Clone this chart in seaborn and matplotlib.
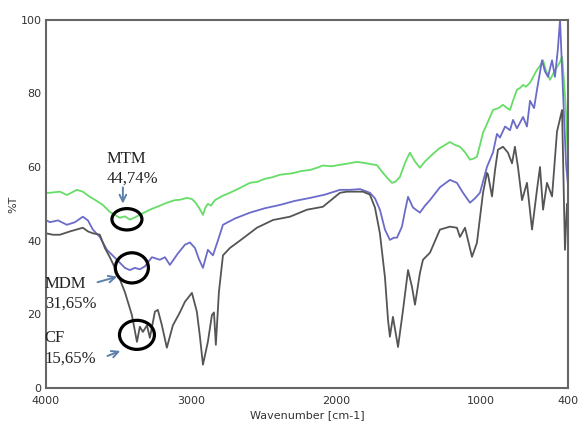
import numpy as np
import pandas as pd
import matplotlib
matplotlib.use("Agg")
import matplotlib.pyplot as plt
from matplotlib.patches import Ellipse
from matplotlib.ticker import MultipleLocator
import seaborn as sns

# ---- data ----
mtm_wn = [4000, 3972, 3903, 3855, 3786, 3745, 3697, 3662, 3607, 3559, 3490, 3455, 3421, 3386,
          3352, 3283, 3214, 3166, 3110, 3076, 3028, 2993, 2972, 2945, 2917, 2900, 2883, 2862,
          2834, 2780, 2731, 2662, 2593, 2540, 2490, 2440, 2386, 2300, 2240, 2179, 2130, 2090,
          2030, 1972, 1910, 1855, 1790, 1717, 1676, 1645, 1614, 1590, 1559, 1520, 1490, 1455,
          1421, 1386, 1352, 1290, 1214, 1180, 1145, 1110, 1076, 1050, 1028, 1007, 986, 950,
          917, 880, 848, 820, 800, 775, 752, 730, 710, 690, 662, 640, 614, 593, 572, 550,
          524, 500, 476, 455, 441, 425, 414, 400]
mtm_t = [53.0, 53.0, 53.3, 52.4, 53.8, 53.3, 51.9, 51.1, 49.7, 47.8, 46.2, 46.6, 45.7, 46.3,
         47.0, 48.4, 49.5, 50.3, 51.0, 51.1, 51.6, 51.3, 50.5, 49.0, 47.0, 49.0, 50.0, 49.5,
         51.0, 52.2, 53.0, 54.3, 55.7, 56.0, 56.8, 57.2, 57.9, 58.3, 58.9, 59.2, 59.8, 60.4,
         60.2, 60.6, 61.0, 61.4, 61.0, 60.5, 58.4, 57.0, 55.7, 56.0, 57.3, 61.5, 63.9, 61.5,
         59.8, 61.5, 62.8, 65.0, 66.8, 66.0, 65.5, 64.0, 62.0, 62.3, 62.8, 66.0, 69.3, 72.5,
         75.5, 76.0, 76.9, 76.0, 75.5, 78.5, 81.0, 81.5, 82.3, 81.8, 82.9, 84.5, 86.4, 87.5,
         89.0, 86.0, 83.7, 85.5, 87.2, 88.5, 90.0, 82.0, 75.0, 61.0]

mdm_wn = [4000, 3972, 3917, 3855, 3800, 3745, 3710, 3676, 3628, 3579, 3510, 3455, 3421, 3386,
          3352, 3317, 3269, 3214, 3179, 3145, 3090, 3041, 3007, 2972, 2945, 2917, 2883, 2848,
          2814, 2779, 2697, 2593, 2490, 2386, 2283, 2179, 2076, 1972, 1903, 1834, 1766, 1731,
          1697, 1662, 1628, 1600, 1579, 1545, 1524, 1503, 1469, 1421, 1386, 1352, 1283, 1214,
          1166, 1124, 1076, 1041, 1007, 959, 917, 890, 869, 834, 800, 779, 752, 710, 683, 662,
          634, 614, 579, 559, 538, 510, 490, 470, 455, 434, 414, 400]
mdm_t = [45.6, 45.0, 45.5, 44.3, 45.0, 46.5, 45.5, 43.0, 41.0, 37.5, 34.8, 32.6, 32.0, 32.6,
         32.2, 33.0, 35.5, 34.8, 35.5, 33.4, 36.5, 38.9, 39.5, 38.0, 35.0, 32.6, 37.5, 36.0,
         40.0, 44.3, 46.0, 47.6, 48.8, 49.7, 50.8, 51.6, 52.5, 53.8, 53.8, 54.0, 53.0, 51.5,
         48.4, 43.0, 40.2, 40.8, 40.8, 43.8, 48.0, 51.9, 49.0, 47.6, 49.5, 51.0, 54.5, 56.5,
         55.7, 53.0, 50.3, 51.5, 53.0, 60.0, 64.0, 69.0, 68.0, 71.0, 70.0, 72.8, 70.5, 73.6,
         71.0, 78.0, 76.0, 81.0, 89.0, 86.0, 84.5, 89.0, 84.5, 92.0, 100.0, 80.0, 61.0, 55.0]

cf_wn = [4000, 3952, 3903, 3834, 3745, 3710, 3676, 3628, 3593, 3559, 3524, 3490, 3455, 3407,
         3372, 3352, 3331, 3303, 3283, 3248, 3228, 3200, 3166, 3124, 3076, 3041, 2993, 2959,
         2938, 2917, 2883, 2855, 2841, 2828, 2807, 2779, 2731, 2662, 2545, 2434, 2317, 2200,
         2090, 1972, 1924, 1814, 1766, 1731, 1697, 1662, 1641, 1628, 1607, 1572, 1538, 1503,
         1476, 1455, 1421, 1400, 1352, 1283, 1214, 1166, 1145, 1110, 1062, 1028, 986, 959,
         952, 924, 903, 883, 848, 814, 786, 766, 745, 717, 683, 648, 614, 593, 572, 545, 510,
         476, 441, 421, 407, 400]
cf_t = [42.0, 41.6, 41.6, 42.5, 43.5, 42.5, 42.0, 41.6, 38.0, 35.5, 32.6, 29.5, 26.0, 19.8,
        12.5, 16.6, 15.2, 17.0, 13.6, 20.7, 21.2, 17.0, 10.9, 17.0, 20.5, 23.4, 25.8, 20.7,
        14.0, 6.3, 12.5, 19.8, 20.5, 11.7, 26.0, 36.0, 38.0, 40.0, 43.5, 45.6, 46.5, 48.4,
        49.2, 53.0, 53.3, 53.3, 52.5, 49.0, 42.0, 30.0, 18.5, 13.9, 19.3, 11.1, 21.0, 32.0,
        27.5, 22.6, 31.2, 34.8, 36.7, 43.0, 43.8, 43.5, 41.0, 43.5, 35.6, 39.4, 53.0, 58.4,
        58.0, 52.0, 59.2, 64.7, 65.5, 63.9, 61.0, 65.5, 60.0, 51.0, 55.7, 43.0, 53.8, 60.0,
        48.4, 55.7, 52.0, 69.6, 75.5, 37.5, 50.0, 48.0]

series_names = ["MTM", "MDM", "CF"]
series_colors = ["#66dd66", "#6b6bc9", "#555555"]
annot_lines = [("MTM", "44,74%"), ("MDM", "31,65%"), ("CF", "15,65%")]

df = pd.concat([
    pd.DataFrame({"wn": mtm_wn, "T": mtm_t, "s": "MTM"}),
    pd.DataFrame({"wn": mdm_wn, "T": mdm_t, "s": "MDM"}),
    pd.DataFrame({"wn": cf_wn, "T": cf_t, "s": "CF"}),
], ignore_index=True)

sns.set_style("white")
fig = plt.figure(figsize=(5.88, 4.30), dpi=100)
ax = fig.add_axes([0.078, 0.098, 0.888, 0.856])

sns.lineplot(data=df, x="wn", y="T", hue="s", hue_order=series_names,
             palette=dict(zip(series_names, series_colors)), estimator=None,
             sort=False, linewidth=1.3, legend=False, ax=ax)

ax.set_xlim(4000, 400)
ax.set_ylim(0, 100)
ax.set_xticks([4000, 3000, 2000, 1000, 400])
ax.set_xticklabels(["4000", "3000", "2000", "1000", "400"])
ax.xaxis.set_minor_locator(MultipleLocator(500))
ax.set_yticks([0, 20, 40, 60, 80, 100])
ax.yaxis.set_minor_locator(MultipleLocator(10))
ax.tick_params(axis="both", which="major", direction="in", length=6, width=1.2,
               color="#555555", labelsize=8, labelcolor="#333333", pad=3)
ax.tick_params(axis="x", which="major", pad=6)
ax.tick_params(axis="both", which="minor", direction="in", length=4, width=1.0,
               color="#555555")
for sp in ax.spines.values():
    sp.set_color("#666666")
    sp.set_linewidth(1.5)
ax.set_xlabel("Wavenumber [cm-1]", fontsize=8, color="#333333", labelpad=3)
ax.set_ylabel("%T", fontsize=8, color="#333333", labelpad=2)

# circles
for cx, cy, w, h in [(3441, 45.8, 207, 5.8), (3407, 32.6, 228, 8.2), (3372, 14.4, 241, 7.9)]:
    ax.add_patch(Ellipse((cx, cy), w, h, fill=False, edgecolor="black", linewidth=2.3,
                         zorder=5))

# texts
serif = "Liberation Serif"
txt = dict(fontsize=12, family=serif, color="#222222", ha="left", va="baseline")
ax.text(3579, 61.1, annot_lines[0][0], **txt)
ax.text(3579, 55.7, annot_lines[0][1], **txt)
ax.text(4007, 27.2, annot_lines[1][0], **txt)
ax.text(4007, 21.7, annot_lines[1][1], **txt)
ax.text(4007, 12.5, annot_lines[2][0], **txt)
ax.text(4007, 6.8, annot_lines[2][1], **txt)

arrow = dict(arrowstyle="->", color="#5b80aa", lw=1.4, mutation_scale=12)
ax.annotate("", xy=(3469, 49.3), xytext=(3469, 55.2), arrowprops=arrow)
ax.annotate("", xy=(3490, 30.4), xytext=(3662, 28.5), arrowprops=arrow)
ax.annotate("", xy=(3469, 10.3), xytext=(3593, 8.4), arrowprops=arrow)

fig.savefig("out.png", dpi=100, facecolor="white")
